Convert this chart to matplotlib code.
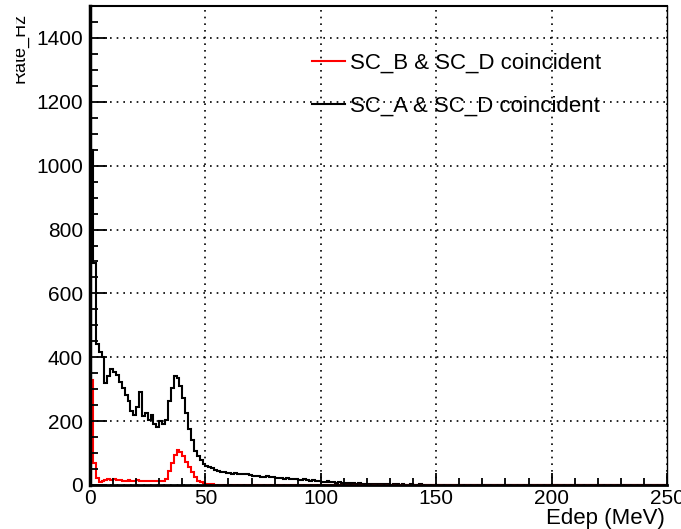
import numpy as np
import matplotlib
matplotlib.use("Agg")
import matplotlib.pyplot as plt
from matplotlib.ticker import MultipleLocator
from matplotlib.lines import Line2D
from matplotlib.transforms import Bbox

plt.rcParams['font.family'] = ['Liberation Sans', 'DejaVu Sans']

# histogram binning: 200 bins over 0-250 MeV
x_min, x_max, n_bins = 0, 250, 200

# SC_A & SC_D coincident (black), Rate_Hz per bin
black_counts = [
    1050, 695, 440, 415, 400, 318, 340, 362, 355, 345,
    322, 305, 282, 262, 232, 220, 245, 290, 215, 225,
    205, 220, 190, 182, 200, 190, 205, 262, 305, 342,
    335, 310, 272, 225, 175, 140, 105, 92, 78, 65,
    58, 55, 52, 48, 45, 42, 40, 38, 37, 36,
    38, 35, 34, 36, 33, 31, 28, 27, 29, 26,
    25, 27, 24, 25, 23, 22, 21, 20, 22, 19,
    18, 20, 17, 16, 18, 15, 14, 16, 13, 12,
    10, 9, 11, 8, 9, 7, 8, 6, 7, 5,
    6, 5, 4, 5, 4, 3, 4, 3, 3, 2,
    3, 2, 2, 3, 1, 2, 2, 1, 2, 1,
    1, 2, 1, 1, 2, 1, 0, 1, 1, 0,
    1, 1, 0, 1, 0, 1, 0, 0, 1, 0,
    0, 1, 0, 0, 0, 1, 0, 0, 0, 0,
    1, 0, 0, 0, 0, 0, 1, 0, 0, 0,
    0, 0, 0, 0, 0, 0, 0, 0, 0, 0,
    0, 0, 0, 0, 0, 0, 0, 0, 0, 0,
    0, 0, 0, 0, 0, 0, 0, 0, 0, 0,
    0, 0, 0, 0, 0, 0, 0, 0, 0, 0,
    0, 0, 0, 0, 0, 0, 0, 0, 0, 0,
]

# SC_B & SC_D coincident (red)
red_counts = [
    330, 70, 22, 10, 14, 16, 18, 16, 18, 15,
    17, 14, 13, 16, 14, 12, 15, 13, 12, 14,
    11, 13, 12, 14, 12, 13, 18, 45, 68, 95,
    110, 104, 92, 72, 55, 40, 25, 14, 8, 5,
    3, 2, 2, 1, 1, 0, 1, 0, 0, 0,
] + [0] * 150

x_ticks = [0, 50, 100, 150, 200, 250]
y_ticks = [0, 200, 400, 600, 800, 1000, 1200, 1400]

edges = np.linspace(x_min, x_max, n_bins + 1)

fig = plt.figure(figsize=(6.81, 5.29), dpi=100)
ax = fig.add_axes([90 / 681, 44 / 529, 577 / 681, 479 / 529])

ax.stairs(black_counts, edges, color='black', linewidth=1.5)
ax.stairs(red_counts, edges, color='red', linewidth=1.5)

ax.set_xlim(x_min, x_max)
ax.set_ylim(0, 1500)
ax.set_xticks(x_ticks)
ax.set_yticks(y_ticks)
ax.xaxis.set_minor_locator(MultipleLocator(10))
ax.yaxis.set_minor_locator(MultipleLocator(50))

ax.grid(True, which='major', color='black', linestyle=(0, (1, 3)), linewidth=1.2)

ax.tick_params(which='both', direction='in', top=False, right=False, labelsize=15, width=1.3)
ax.tick_params(axis='y', which='major', length=12, pad=5)
ax.tick_params(axis='y', which='minor', length=6)
ax.tick_params(axis='x', which='major', length=9, pad=3)
ax.tick_params(axis='x', which='minor', length=5)

ax.spines['left'].set_linewidth(2.5)
ax.spines['bottom'].set_linewidth(2.0)
ax.spines['top'].set_linewidth(1.5)
ax.spines['right'].set_linewidth(1.0)

ax.set_xlabel("Edep (MeV)", fontsize=16, ha='right', va='top')
ax.xaxis.set_label_coords(0.9965, -0.049)

# y title sits partly outside the canvas in the original, so clip it
ylab = fig.text(29 / 681, 1 - 13 / 529, "Rate_Hz", rotation=90, ha='right', va='top', fontsize=13)
ylab.set_clip_box(Bbox([[16, 0], [681, 529]]))
ylab.set_clip_on(True)

handles = [Line2D([], [], color='red', linewidth=1.5),
           Line2D([], [], color='black', linewidth=1.5)]
labels = ["SC_B & SC_D coincident", "SC_A & SC_D coincident"]
ax.legend(handles, labels, loc='upper left', bbox_to_anchor=(0.369, 0.921),
          frameon=False, fontsize=16, handlelength=1.5, handletextpad=0.22,
          labelspacing=0.99, borderaxespad=0)

fig.savefig("out.png", dpi=100)
